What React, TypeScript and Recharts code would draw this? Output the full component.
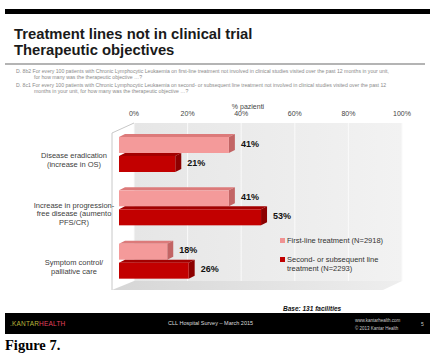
import React from 'react';
import { BarChart, Bar, XAxis, YAxis, LabelList, Legend } from 'recharts';

const categories = ['Disease eradication', 'Increase in progression-free disease', 'Symptom control'];
const categoryLines = [
  ['Disease eradication', '(increase in OS)'],
  ['Increase in progression-', 'free disease (aumento', 'PFS/CR)'],
  ['Symptom control/', 'palliative care'],
];
const firstLine = [41, 41, 18];
const secondLine = [21, 53, 26];
const xTicks = [0, 20, 40, 60, 80, 100];

const seriesNames = ['First-line treatment (N=2918)', 'Second- or subsequent line treatment (N=2293)'];

const data = categories.map((c, i) => ({ name: c, first: firstLine[i], second: secondLine[i] }));

const font = '"Liberation Sans", Arial, sans-serif';

const Bar3D = (color: string, top: string, side: string) => (props: any) => {
  const { x, y, width, height } = props;
  const d = 6;
  const t = 3;
  return (
    <g>
      <polygon points={`${x},${y + t} ${x + d},${y} ${x + width + d},${y} ${x + width},${y + t}`} fill={top} />
      <polygon points={`${x + width},${y + t} ${x + width + d},${y} ${x + width + d},${y + height - t} ${x + width},${y + height}`} fill={side} />
      <rect x={x} y={y + t} width={width} height={height - t} fill={color} />
    </g>
  );
};

const renderCatTick = (props: any) => {
  const { y, index } = props;
  const lines = categoryLines[index] || [];
  const start = y + 10 - ((lines.length - 1) * 8.5) / 2;
  return (
    <g>
      {lines.map((l, i) => (
        <text key={i} x={74} y={start + i * 8.5} textAnchor="middle" fontSize={7.5} fontFamily={font} fill="#404040" stroke="none">
          {l}
        </text>
      ))}
    </g>
  );
};

const renderPctTick = (props: any) => {
  const { x, payload } = props;
  return (
    <text x={x + 15} y={116} textAnchor="middle" fontSize={7} fontFamily={font} fill="#444444" stroke="none">
      {payload.value}%
    </text>
  );
};

const LegendBox = () => (
  <div style={{ fontFamily: font, fontSize: 7.5, color: '#333', width: 125, lineHeight: '9.5px' }}>
    <div style={{ display: 'flex', alignItems: 'flex-start', marginBottom: 9 }}>
      <span style={{ width: 5, height: 5, background: '#f09393', marginTop: 2, marginRight: 2, flex: 'none' }} />
      <span>{seriesNames[0]}</span>
    </div>
    <div style={{ display: 'flex', alignItems: 'flex-start' }}>
      <span style={{ width: 5, height: 5, background: '#c00000', marginTop: 2, marginRight: 2, flex: 'none' }} />
      <span>{seriesNames[1]}</span>
    </div>
  </div>
);

const gridXs = xTicks.map((t) => 134 + (t / 100) * 268);

const App: React.FC = () => {
  return (
    <div style={{ position: 'absolute', left: 0, top: 0, width: 435, height: 364, background: '#fff', fontFamily: font, overflow: 'hidden' }}>
      {/* top bar + title */}
      <div style={{ position: 'absolute', left: 5, top: 9, width: 425, height: 5, background: '#000' }} />
      <div style={{ position: 'absolute', left: 14, top: 27, fontSize: 14.8, fontWeight: 'bold', color: '#1a1a1a', lineHeight: '15.5px' }}>
        Treatment lines not in clinical trial<br />Therapeutic objectives
      </div>
      <div style={{ position: 'absolute', left: 5, top: 63, width: 420, height: 2, background: '#b4b4b4' }} />
      <div style={{ position: 'absolute', left: 16, top: 69, width: 420, fontSize: 5.15, color: '#8a8a8a', lineHeight: '5.5px', whiteSpace: 'nowrap' }}>
        <div>D. 8b2 For every 100 patients with Chronic Lymphocytic Leukaemia on first-line treatment not involved in clinical studies visited over the past 12 months in your unit,</div>
        <div style={{ paddingLeft: 18 }}>for how many was the therapeutic objective …?</div>
        <div style={{ marginTop: 3 }}>D. 8c1 For every 100 patients with Chronic Lymphocytic Leukaemia on second- or subsequent line treatment not involved in clinical studies visited over the past 12</div>
        <div style={{ paddingLeft: 18 }}>months in your unit, for how many was the therapeutic objective …?</div>
      </div>

      {/* 3D wall and floor */}
      <svg width={435} height={364} style={{ position: 'absolute', left: 0, top: 0 }}>
        <defs>
          <linearGradient id="wall" x1="0" y1="0" x2="1" y2="0">
            <stop offset="0%" stopColor="#e6e6e6" />
            <stop offset="100%" stopColor="#f2f2f2" />
          </linearGradient>
          <linearGradient id="floor" x1="0" y1="0" x2="1" y2="0">
            <stop offset="0%" stopColor="#d6d6d6" />
            <stop offset="100%" stopColor="#eeeeee" />
          </linearGradient>
        </defs>
        <rect x={134} y={123} width={268} height={158} fill="url(#wall)" />
        {gridXs.map((gx, i) => (
          <line key={i} x1={gx} y1={123} x2={gx} y2={281} stroke="#fafafa" strokeWidth={1} />
        ))}
        <polygon points="112,290 134,281 402,281 383,290" fill="url(#floor)" />
        <polyline points="134,123 112,133 112,290" fill="none" stroke="#c8c8c8" strokeWidth={1} />
      </svg>

      <div style={{ position: 'absolute', left: 0, top: 0 }}>
        <BarChart
          width={435}
          height={364}
          data={data}
          layout="vertical"
          margin={{ top: 104, right: 48, bottom: 78, left: 0 }}
          barSize={19}
          barGap={0}
        >
          <XAxis
            type="number"
            orientation="top"
            domain={[0, 100]}
            ticks={xTicks}
            axisLine={false}
            tickLine={false}
            height={22}
            tick={renderPctTick}
            label={{ value: '% pazienti', position: 'insideTop', offset: 0, dx: -5, fontSize: 7, fill: '#444', fontFamily: font }}
          />
          <YAxis type="category" dataKey="name" width={119} axisLine={false} tickLine={false} tick={renderCatTick} />
          <Legend
            layout="vertical"
            align="center"
            verticalAlign="middle"
            content={<LegendBox />}
            wrapperStyle={{ left: 280, top: 236, width: 130 }}
          />
          <Bar dataKey="first" name={seriesNames[0]} fill="#f49a9a" shape={Bar3D('#f49a9a', '#dc7a7a', '#c26464')} isAnimationActive={false}>
            <LabelList dataKey="first" position="right" offset={12} formatter={(v: any) => `${v}%`} style={{ fontSize: 9, fontWeight: 'bold', fill: '#111', fontFamily: font }} />
          </Bar>
          <Bar dataKey="second" name={seriesNames[1]} fill="#c20000" shape={Bar3D('#c20000', '#a30000', '#8c0000')} isAnimationActive={false}>
            <LabelList dataKey="second" position="right" offset={12} formatter={(v: any) => `${v}%`} style={{ fontSize: 9, fontWeight: 'bold', fill: '#111', fontFamily: font }} />
          </Bar>
        </BarChart>
      </div>

      {/* footer */}
      <div style={{ position: 'absolute', left: 283, top: 305, fontSize: 6.5, fontWeight: 'bold', fontStyle: 'italic', color: '#111' }}>
        Base: 131 facilities
      </div>
      <div style={{ position: 'absolute', left: 5, top: 313, width: 425, height: 21, background: '#000' }}>
        <div style={{ position: 'absolute', left: 5, top: 7, fontSize: 6.5, letterSpacing: 0.2 }}>
          <span style={{ color: '#b7b43c' }}>.KANTAR</span>
          <span style={{ color: '#e0405e' }}>HEALTH</span>
        </div>
        <div style={{ position: 'absolute', left: 163, top: 7, fontSize: 5.5, color: '#ddd' }}>CLL Hospital Survey – March 2015</div>
        <div style={{ position: 'absolute', left: 350, top: 4, fontSize: 4.5, color: '#ccc', lineHeight: '8px' }}>
          www.kantarhealth.com<br />© 2013 Kantar Health
        </div>
        <div style={{ position: 'absolute', left: 416, top: 8, fontSize: 5, color: '#ccc' }}>5</div>
      </div>
      <div style={{ position: 'absolute', left: 5, top: 337, fontFamily: '"Liberation Serif", "Times New Roman", serif', fontWeight: 'bold', fontSize: 14.5, color: '#000' }}>
        Figure 7.
      </div>
    </div>
  );
};

export default App;
